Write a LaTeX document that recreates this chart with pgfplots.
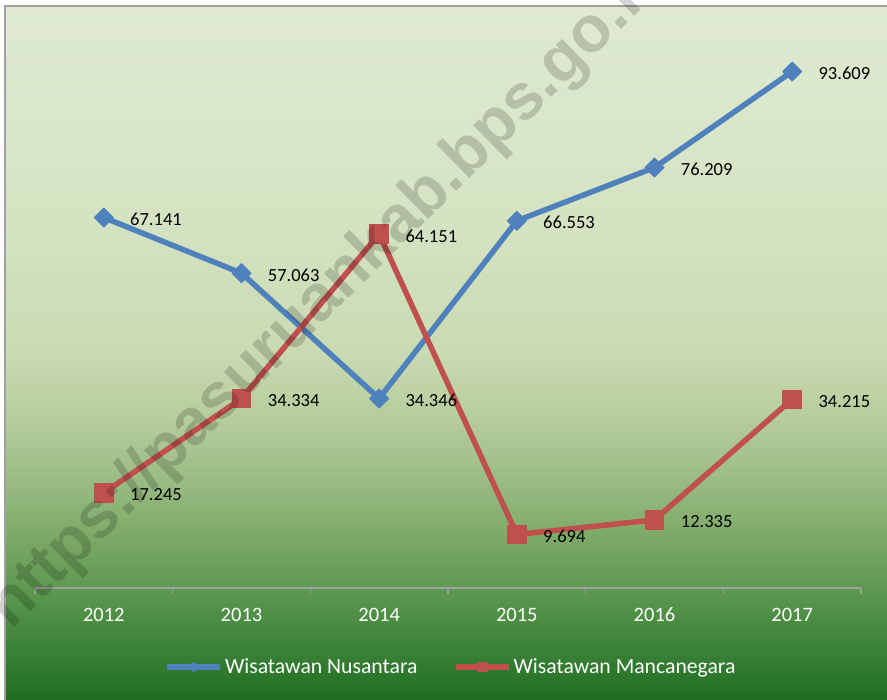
\documentclass[border=0pt]{standalone}
\usepackage{fontspec}
\setmainfont{Carlito}
\newfontfamily\wmfont{Liberation Sans}
\usepackage{pgfplots}
\pgfplotsset{compat=1.18}

\definecolor{blueS}{RGB}{79,129,189}
\definecolor{redS}{RGB}{192,80,77}
\definecolor{axgray}{RGB}{160,160,160}
\definecolor{c1}{RGB}{223,234,210}
\definecolor{c2}{RGB}{214,228,196}
\definecolor{c3}{RGB}{202,219,179}
\definecolor{c4}{RGB}{181,204,156}
\definecolor{c5}{RGB}{154,188,132}
\definecolor{c6}{RGB}{123,168,102}
\definecolor{c7}{RGB}{93,152,80}
\definecolor{c8}{RGB}{63,133,58}
\definecolor{c9}{RGB}{31,110,34}

\begin{document}
\begin{tikzpicture}
\begin{scope}[x=1bp,y=1bp]
\path[use as bounding box] (0,0) rectangle (887,700);
\fill[white] (0,0) rectangle (887,700);
% gradient background (image y measured from top)
\shade[top color=c1, bottom color=c2] (5,500) rectangle (887,694);
\shade[top color=c2, bottom color=c3] (5,350) rectangle (887,500.3);
\shade[top color=c3, bottom color=c4] (5,280) rectangle (887,350.3);
\shade[top color=c4, bottom color=c5] (5,220) rectangle (887,280.3);
\shade[top color=c5, bottom color=c6] (5,160) rectangle (887,220.3);
\shade[top color=c6, bottom color=c7] (5,110) rectangle (887,160.3);
\shade[top color=c7, bottom color=c8] (5,60) rectangle (887,110.3);
\shade[top color=c8, bottom color=c9] (5,0) rectangle (887,60.3);
\draw[axgray, line width=1.5] (5,0) -- (5,694) -- (887,694);
\end{scope}

\begin{axis}[
  at={(35bp,112bp)}, anchor=south west, scale only axis,
  width=826bp, height=551.7bp,
  xmin=-0.5, xmax=5.5, ymin=0, ymax=100,
  clip=false,
  axis x line*=bottom, axis y line=none,
  x axis line style={draw=axgray, line width=1.5bp},
  xtick={0,1,2,3,4,5},
  xticklabels={2012,2013,2014,2015,2016,2017},
  major x tick style={draw=none},
  major tick length=0pt,
  minor xtick={-0.5,0.5,1.5,2.5,3.5,4.5,5.5},
  minor x tick style={draw=axgray, line width=1.5bp},
  minor tick length=6bp,
  xtick align=outside,
  xticklabel style={text=white, font=\fontsize{20.5bp}{24bp}\selectfont, anchor=base, yshift=-33.6bp, inner sep=0pt},
  every node near coord/.append style={anchor=west, xshift=26bp, yshift=-2bp, text=black, inner sep=0pt, font=\fontsize{18.5bp}{22bp}\selectfont},
  nodes near coords={\pgfplotspointmeta},
  point meta=explicit symbolic,
  legend style={at={(0.5036,-0.1432)}, anchor=center, draw=none, fill=none,
    text=white, font=\fontsize{21.7bp}{25bp}\selectfont,
    /tikz/every even column/.append style={column sep=33.5bp}},
  legend columns=2,
  legend image code/.code={
    \draw[#1, mark=none] (0bp,0bp) -- (53bp,0bp);
    \draw[#1] plot coordinates {(26.5bp,0bp)};
  },
]
\addplot[blueS, line width=5.5bp, line join=round, mark=square*, mark size=6.8bp,
  mark options={rotate=45, line width=0.8bp, fill=blueS, draw=blueS},
  legend image post style={mark size=3.4bp}]
  coordinates {(0,67.141)[67.141] (1,57.063)[57.063] (2,34.346)[34.346]
               (3,66.553)[66.553] (4,76.209)[76.209] (5,93.609)[93.609]};
\addlegendentry{Wisatawan Nusantara}
\addplot[redS, line width=5.5bp, line join=round, mark=square*, mark size=9.3bp,
  mark options={line width=0.8bp, fill=redS, draw=redS},
  legend image post style={mark size=4.6bp}]
  coordinates {(0,17.245)[17.245] (1,34.334)[34.334] (2,64.151)[64.151]
               (3,9.694)[9.694] (4,12.335)[12.335] (5,34.215)[34.215]};
\addlegendentry{Wisatawan Mancanegara}
\end{axis}

\begin{scope}[x=1bp,y=1bp]
\clip (0,0) rectangle (887,700);
\node[rotate=44.6, opacity=0.17, text=black, inner sep=0pt,
  font=\wmfont\bfseries\fontsize{65bp}{65bp}\selectfont] at (330,407) {https://pasuruankab.bps.go.id};
\end{scope}
\end{tikzpicture}
\end{document}
